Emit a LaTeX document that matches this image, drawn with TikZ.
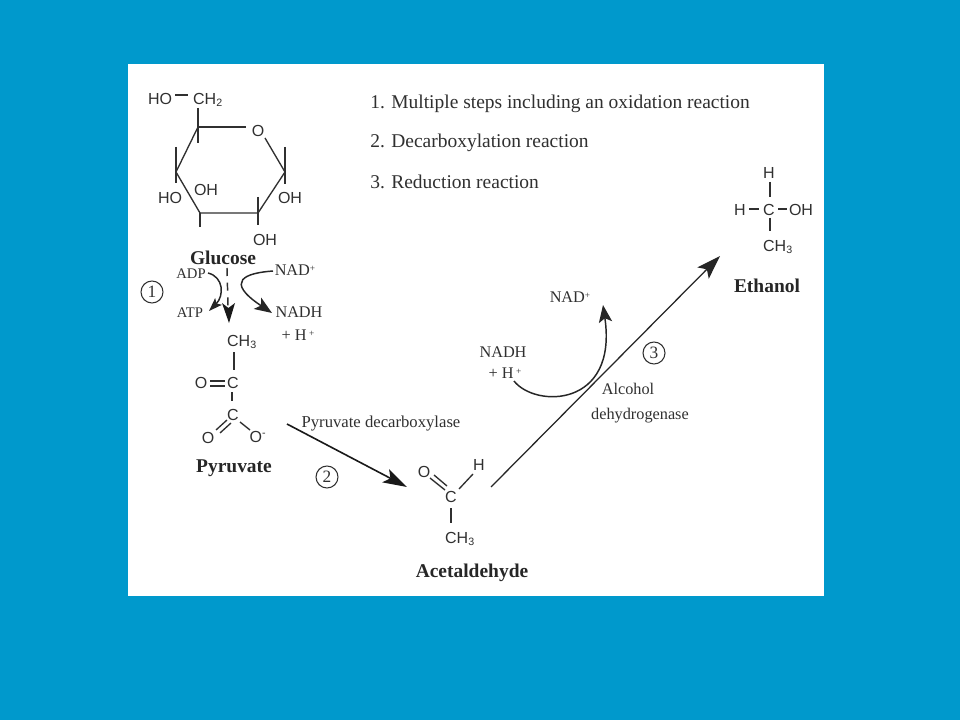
\documentclass[tikz,border=0pt]{standalone}
\usepackage{fontspec}
\setmainfont{Liberation Serif}
\newfontfamily\chemfont{Liberation Sans}
\usetikzlibrary{arrows.meta}
\definecolor{bgblue}{HTML}{0099CC}
\definecolor{inkc}{HTML}{303030}
\newcommand{\sps}[1]{\raisebox{.55ex}{\scriptsize #1}}
\tikzset{
  chem/.style={font=\chemfont\fontsize{12}{14}\selectfont,text=inkc,inner sep=1pt},
  rom/.style={font=\fontsize{11}{13}\selectfont,text=inkc,inner sep=0pt},
  romb/.style={font=\fontsize{12.2}{14}\selectfont,text=inkc,inner sep=0pt},
  listitem/.style={font=\fontsize{14.6}{17}\selectfont,text=inkc,inner sep=0pt,anchor=west},
  cpdname/.style={font=\bfseries\fontsize{14.6}{17}\selectfont,text=black!85,inner sep=0pt},
  bond/.style={draw=inkc,line width=1pt},
  circ/.style={draw=inkc,line width=0.8pt,circle,minimum size=16.5pt,inner sep=0pt,font=\fontsize{13}{15}\selectfont,text=inkc},
  bigarrow/.style={draw=black!90,line width=1.2pt,-{Stealth[length=18pt,width=11pt,inset=4pt]}},
  curvearrow/.style={draw=black!85,line width=1.1pt,-{Stealth[length=13pt,width=10pt,inset=3pt]}},
  smallcurve/.style={draw=black!85,line width=1.1pt,-{Stealth[length=10pt,width=7pt,inset=2pt]}},
}
\begin{document}
\begin{tikzpicture}[x=0.75pt,y=-0.75pt]
\fill[bgblue] (0,0) rectangle (960,720);
\useasboundingbox (0,0) rectangle (960,720);
\fill[white] (128,64) rectangle (824,596);
% list
\node[listitem] (l1) at (370,104) {1. Multiple steps including an oxidation reaction};
\node[listitem] (l2) at (370,143) {2. Decarboxylation reaction};
\node[listitem] (l3) at (370,182) {3. Reduction reaction};
% glucose
\coordinate (r5) at (198,127);
\coordinate (r4) at (176,172);
\coordinate (r3) at (200,213);
\coordinate (r2) at (258,213);
\coordinate (r1) at (285,172);
\coordinate (rOa) at (246,127);
\coordinate (rOb) at (265,138);
\node[chem] (rO) at (258,131) {O};
\node[chem] (gHO) at (160,99) {HO};
\node[chem] (gCH2) at (208,100) {CH\textsubscript{2}};
\node[chem] (g4) at (170,198) {HO};
\node[chem] (g3) at (206,190) {OH};
\node[chem] (g1) at (290,198) {OH};
\node[chem] (g2) at (265,240) {OH};
\draw[bond] (r5) -- (rOa);
\draw[bond] (rOb) -- (r1) -- (r2) -- (r3) -- (r4) -- (r5);
\draw[bond] (r5) ++(0,-19) -- ++(0,35);
\draw[bond] (r4) ++(0,-25) -- ++(0,36);
\draw[bond] (r1) ++(0,-25) -- ++(0,37);
\draw[bond] (r3) -- ++(0,14);
\draw[bond] (r2) ++(0,-16) -- ++(0,28);
\draw[bond] (175,95) -- (188,95);
\node[cpdname] (glucose) at (223,258) {Glucose};
% step 1
\node[rom] (adp) at (191,274) {ADP};
\node[rom] (atp) at (190,313) {ATP};
\node[romb] (nad1) at (295,270) {NAD\sps{+}};
\node[romb] (nadh1) at (299,312) {NADH};
\node[romb] (h1) at (298,335) {+ H\,\sps{+}};
\node[circ] (c1) at (152,292) {1};
\coordinate (adpe) at (208,273);
\coordinate (atpe) at (209,311);
\coordinate (nadw) at (273,271);
\coordinate (nadhw) at (272,313);
\coordinate (dashtop) at (227,268);
\coordinate (dashtip) at (229,323);
\draw[bond,dash pattern=on 6pt off 5pt,line width=1.1pt] (dashtop) -- (228,306);
\draw[draw=none,fill=black!90] (dashtip) -- (222,303) -- (228.4,308) -- (235,303) -- cycle;
\draw[smallcurve] (adpe) .. controls (224,277) and (224,296) .. (atpe);
\draw[curvearrow] (nadw) .. controls (245,273) and (224,281) .. (nadhw);
% pyruvate
\node[chem] (pCH3) at (242,342) {CH\textsubscript{3}};
\node[chem] (pC1) at (233,383) {C};
\node[chem] (pO1) at (201,383) {O};
\node[chem] (pC2) at (233,415) {C};
\node[chem] (pO2) at (208,438) {O};
\node[chem] (pO3) at (258,437) {O\textsuperscript{-}};
\draw[bond] (234,352) -- (234,370);
\draw[bond] (210,381) -- (225,381);
\draw[bond] (210,386) -- (225,386);
\draw[bond] (232,392) -- (232,401);
\draw[bond] (216,430) -- (227,420);
\draw[bond] (220,433) -- (231,423);
\draw[bond] (240,422) -- (250,430);
\node[cpdname] (pyr) at (234,468) {Pyruvate};
% step 2
\coordinate (a2s) at (287,424);
\coordinate (a2e) at (407,487);
\draw[bigarrow] (a2s) -- (a2e);
\node[romb,font=\fontsize{12.5}{14}\selectfont] (pdc) at (381,424) {Pyruvate decarboxylase};
\node[circ] (c2) at (327,477) {2};
% acetaldehyde
\node[chem] (aO) at (424,472) {O};
\node[chem] (aC) at (451,497) {C};
\node[chem] (aH) at (479,465) {H};
\node[chem] (aCH3) at (460,539) {CH\textsubscript{3}};
\draw[bond] (430,478) -- (445,490);
\draw[bond] (434,475) -- (447,486);
\draw[bond] (459,489) -- (473,474);
\draw[bond] (451,508) -- (451,523);
\node[cpdname] (acet) at (472,573) {Acetaldehyde};
% step 3
\coordinate (a3s) at (491,487);
\coordinate (a3e) at (720,256);
\draw[draw=black!85,line width=0.95pt,-{Stealth[length=18pt,width=12pt,inset=4pt]}] (a3s) -- (a3e);
\node[romb] (nad3) at (570,297) {NAD\sps{+}};
\node[romb] (nadh3) at (503,352) {NADH};
\node[romb] (h3) at (505,373) {+ H\,\sps{+}};
\coordinate (c3s) at (514,381);
\coordinate (c3e) at (603,305);
\draw[curvearrow] (c3s) .. controls (535,408) and (618,408) .. (c3e);
\node[circ] (c3) at (654,353) {3};
\node[romb] (adh1) at (628,389) {Alcohol};
\node[romb] (adh2) at (640,416) {dehydrogenase};
% ethanol
\node[chem] (eH1) at (769,173) {H};
\node[chem] (eC) at (769,210) {C};
\node[chem] (eH2) at (740,210) {H};
\node[chem] (eOH) at (801,210) {OH};
\node[chem] (eCH3) at (778,247) {CH\textsubscript{3}};
\draw[bond] (770,182) -- (770,197);
\draw[bond] (749,209) -- (759,209);
\draw[bond] (778,209) -- (787,209);
\draw[bond] (770,218) -- (770,231);
\node[cpdname] (eth) at (767,286) {Ethanol};
\end{tikzpicture}
\end{document}
